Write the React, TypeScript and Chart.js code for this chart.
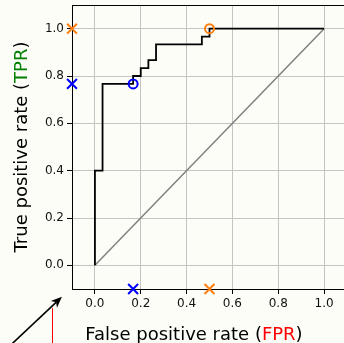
import React, { useEffect, useRef } from "react";
import { Chart, registerables } from "chart.js";

Chart.register(...registerables);

// ROC curve (false positive rate vs true positive rate)
const fpr = [0, 0, 0.0333, 0.0333, 0.1667, 0.1667, 0.2, 0.2, 0.2333, 0.2333, 0.2667, 0.2667, 0.4667, 0.4667, 0.5, 0.5, 1.0];
const tpr = [0, 0.4, 0.4, 0.7667, 0.7667, 0.8, 0.8, 0.8333, 0.8333, 0.8667, 0.8667, 0.9333, 0.9333, 0.9667, 0.9667, 1.0, 1.0];

// chance diagonal
const diagFpr = [0, 1];
const diagTpr = [0, 1];

// operating points
const opFpr = [0.1667, 0.5];
const opTpr = [0.7667, 1.0];
const opColors = ["#0000ff", "#ff7f0e"];

// axes
const axisMin = -0.1;
const axisMax = 1.1;
const tickValues = [0, 0.2, 0.4, 0.6, 0.8, 1.0];

// annotation (data coordinates)
const arrowTail = [-0.371, -0.34];
const arrowTip = [-0.144, -0.133];
const redLineX = [-0.1875, -0.1875];
const redLineY = [-0.18, -0.37];

const FONT = "'DejaVu Sans', sans-serif";
const BG = "#fdfdf8";

function drawMixed(ctx: CanvasRenderingContext2D, parts: [string, string][], cx: number, y: number) {
  let total = 0;
  for (const [t] of parts) total += ctx.measureText(t).width;
  let x = cx - total / 2;
  ctx.textAlign = "left";
  for (const [t, c] of parts) {
    ctx.fillStyle = c;
    ctx.fillText(t, x, y);
    x += ctx.measureText(t).width;
  }
}

const decorPlugin = {
  id: "decor",
  beforeDraw(chart: any) {
    const ctx = chart.ctx;
    ctx.save();
    ctx.fillStyle = BG;
    ctx.fillRect(0, 0, chart.width, chart.height);
    ctx.restore();
  },
  afterDraw(chart: any) {
    const ctx: CanvasRenderingContext2D = chart.ctx;
    const { left, top, right, bottom } = chart.chartArea;
    const xs = chart.scales.x;
    const ys = chart.scales.y;
    ctx.save();
    // top spine
    ctx.strokeStyle = "#000";
    ctx.lineWidth = 1;
    ctx.beginPath();
    ctx.moveTo(left, top + 0.5);
    ctx.lineTo(right, top + 0.5);
    ctx.stroke();

    // axis titles
    ctx.font = `18px ${FONT}`;
    ctx.textBaseline = "alphabetic";
    drawMixed(ctx, [["False positive rate (", "#000"], ["FPR", "#ff0000"], [")", "#000"]], left + 122, 340);
    ctx.save();
    ctx.translate(27, (top + bottom) / 2);
    ctx.rotate(-Math.PI / 2);
    drawMixed(ctx, [["True positive rate (", "#000"], ["TPR", "#008000"], [")", "#000"]], 0, 0);
    ctx.restore();

    // red line
    ctx.strokeStyle = "#ff0000";
    ctx.lineWidth = 1;
    ctx.beginPath();
    ctx.moveTo(Math.round(xs.getPixelForValue(redLineX[0])) + 0.5, ys.getPixelForValue(redLineY[0]));
    ctx.lineTo(Math.round(xs.getPixelForValue(redLineX[1])) + 0.5, ys.getPixelForValue(redLineY[1]));
    ctx.stroke();

    // arrow
    const x0 = xs.getPixelForValue(arrowTail[0]);
    const y0 = ys.getPixelForValue(arrowTail[1]);
    const x1 = xs.getPixelForValue(arrowTip[0]);
    const y1 = ys.getPixelForValue(arrowTip[1]);
    const ang = Math.atan2(y1 - y0, x1 - x0);
    const hl = 11;
    const hw = 4.5;
    const bx = x1 - hl * Math.cos(ang);
    const by = y1 - hl * Math.sin(ang);
    ctx.strokeStyle = "#000";
    ctx.fillStyle = "#000";
    ctx.lineWidth = 1.6;
    ctx.beginPath();
    ctx.moveTo(x0, y0);
    ctx.lineTo(bx + 3 * Math.cos(ang), by + 3 * Math.sin(ang));
    ctx.stroke();
    ctx.beginPath();
    ctx.moveTo(x1, y1);
    ctx.lineTo(bx - hw * Math.sin(ang), by + hw * Math.cos(ang));
    ctx.lineTo(bx + 3 * Math.cos(ang), by + 3 * Math.sin(ang));
    ctx.lineTo(bx + hw * Math.sin(ang), by - hw * Math.cos(ang));
    ctx.closePath();
    ctx.fill();
    ctx.restore();
  },
};

function makeScale(fitSize: (s: any) => void) {
  return {
    type: "linear" as const,
    min: axisMin,
    max: axisMax,
    afterBuildTicks: (s: any) => {
      s.ticks = tickValues.map((v) => ({ value: v }));
    },
    afterFit: (s: any) => {
      fitSize(s);
      s.paddingLeft = 0;
      s.paddingRight = 0;
      s.paddingTop = 0;
      s.paddingBottom = 0;
    },
    ticks: {
      font: { family: FONT, size: 12 },
      color: "#111",
      padding: 3,
      callback: (v: any) => Number(v).toFixed(1),
    },
    grid: {
      color: "#c4c4c4",
      lineWidth: 1,
      tickColor: "#000",
      tickLength: 5,
      drawTicks: true,
    },
    border: { display: true, color: "#000", width: 1 },
    title: { display: false },
  };
}

export default function App() {
  const ref = useRef<HTMLCanvasElement | null>(null);
  useEffect(() => {
    document.body.style.margin = "0";
    document.body.style.background = BG;
    const canvas = ref.current!;
    const rocData = fpr.map((x, i) => ({ x, y: tpr[i] }));
    const diagData = diagFpr.map((x, i) => ({ x, y: diagTpr[i] }));
    const markerSets: any[] = [];
    opFpr.forEach((x, i) => {
      markerSets.push({
        data: [
          { x: axisMin, y: opTpr[i] },
          { x, y: axisMin },
        ],
        pointStyle: "crossRot",
        pointRadius: 7,
        pointBorderWidth: 2,
        borderColor: opColors[i],
        backgroundColor: opColors[i],
        showLine: false,
        clip: false,
      });
      markerSets.push({
        data: [{ x, y: opTpr[i] }],
        pointStyle: "circle",
        pointRadius: 4.5,
        pointBorderWidth: 2,
        borderColor: opColors[i],
        backgroundColor: "rgba(0,0,0,0)",
        showLine: false,
        clip: false,
      });
    });
    const chart = new Chart(canvas, {
      type: "scatter",
      data: {
        datasets: [
          ...markerSets,
          {
            data: rocData,
            showLine: true,
            borderColor: "#000",
            borderWidth: 1.8,
            pointRadius: 0,
            tension: 0,
          },
          {
            data: diagData,
            showLine: true,
            borderColor: "#808080",
            borderWidth: 1.5,
            pointRadius: 0,
            tension: 0,
          },
        ],
      },
      options: {
        responsive: false,
        animation: false,
        devicePixelRatio: 1,
        layout: { autoPadding: false, padding: { top: 5, left: 0, right: 0, bottom: 0 } },
        plugins: { legend: { display: false }, tooltip: { enabled: false } },
        scales: {
          x: makeScale((s: any) => {
            s.height = 54;
          }),
          y: makeScale((s: any) => {
            s.width = 72;
          }),
        },
      },
      plugins: [decorPlugin],
    });
    return () => chart.destroy();
  }, []);
  return (
    <div style={{ width: 344, height: 343, overflow: "hidden" }}>
      <canvas ref={ref} width={347} height={343} style={{ display: "block" }} />
    </div>
  );
}
